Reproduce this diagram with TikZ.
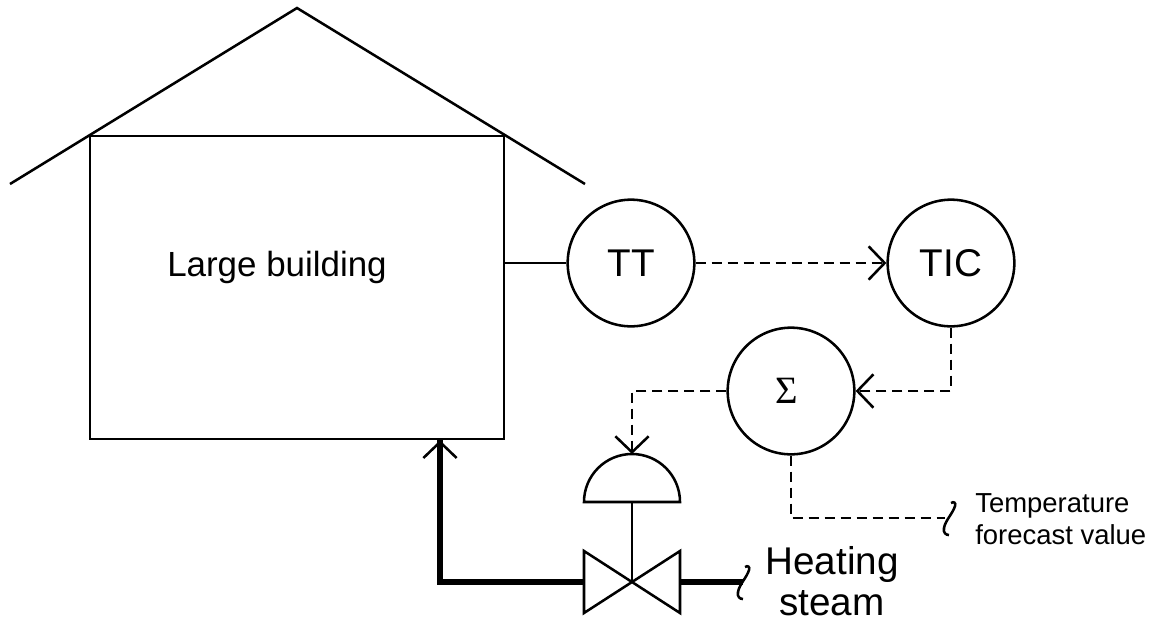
\documentclass[tikz,border=0pt]{standalone}
\usepackage{fontspec}
\setmainfont{Liberation Sans}
\newfontfamily\sigmafont{Liberation Serif}
\usetikzlibrary{arrows.meta,calc,positioning}
\tikzset{
        instrument/.style = {draw, circle, line width=1.9pt, inner sep=0pt,
            minimum size=95pt, font=\fontsize{29}{32}\selectfont},
        signal/.style = {draw, line width=1.9pt, dash pattern=on 7.5pt off 4.5pt},
        pipe/.style = {draw, line width=1.9pt},
        steam/.style = {draw, line width=4.5pt},
        barb/.style = {-{Straight Barb[length=12pt,width=25pt,line width=1.9pt]}},
        breakmark/.pic = {
            \draw [line width=1.9pt] (2,15) .. controls (5,17) and (7,15) .. (6,12)
                .. controls (4,5) and (-4,-3) .. (-5,-10) .. controls (-6,-15) and (-3,-17) .. (0,-17);
        },
    }
\begin{document}
\begin{tikzpicture}[x=0.75pt,y=0.75pt,yscale=-1,xscale=1]
    \useasboundingbox (0,0) rectangle (1152,618);

    %Building
    \node [pipe, rectangle, minimum width=310.5pt, minimum height=227.25pt, inner sep=0pt] (building) at (297,287.5) {};
    \draw [pipe] (10,184) -- (297,8) -- (585,184);
    \node [font=\fontsize{26.2}{30}\selectfont] (buildinglabel) at (277,267) {Large building};

    %Instruments
    \node [instrument] (TT) at (631,263) {TT};
    \node [instrument] (TIC) at (951,263) {TIC};
    \node [instrument] (sum) at (791,391) {\sigmafont Σ\kern6pt};

    %Valve and actuator
    \coordinate (valve) at (632,582);
    \coordinate (actuator) at (632,454);
    \coordinate (actuatorbase) at (632,502);
    \draw [pipe, line join=miter] (584,551) -- (680,613) -- (680,551) -- (584,613) -- cycle;
    \draw [pipe] (584,502) arc (180:360:48) -- cycle;
    \draw [pipe] (actuatorbase) -- (valve);

    %Steam lines
    \coordinate (valvein) at (680,582);
    \coordinate (valveout) at (584,582);
    \coordinate (steamend) at (743,582);
    \coordinate (corner) at (440,582);
    \draw [steam] (valvein) -- (steamend);
    \draw [steam, line join=miter] (valveout) -- (corner) -- (corner |- building.south);
    \draw [pipe, barb] (440,460) -- (corner |- building.south);
    \pic at (steamend) {breakmark};

    %Signal lines
    \coordinate (forecast) at (945,518);
    \draw [pipe] (building.east |- TT.west) -- (TT.west);
    \draw [signal, barb] (TT.east) -- (TIC.west);
    \draw [signal, barb] (TIC.south) |- (sum.east);
    \draw [signal, barb] (sum.west) -| (actuator);
    \draw [signal] (sum.south) |- (forecast);
    \pic at (949,518) {breakmark};

    % Text Node
    \node [anchor=center, align=center, inner sep=0pt, font=\fontsize{29}{30.5}\selectfont] (steamlabel) at (832,581) {Heating\\steam};
    % Text Node
    \node [anchor=west, align=left, inner sep=0pt, font=\fontsize{20.6}{24}\selectfont] (forecastlabel) at (975,519) {Temperature\\forecast value};
\end{tikzpicture}
\end{document}
